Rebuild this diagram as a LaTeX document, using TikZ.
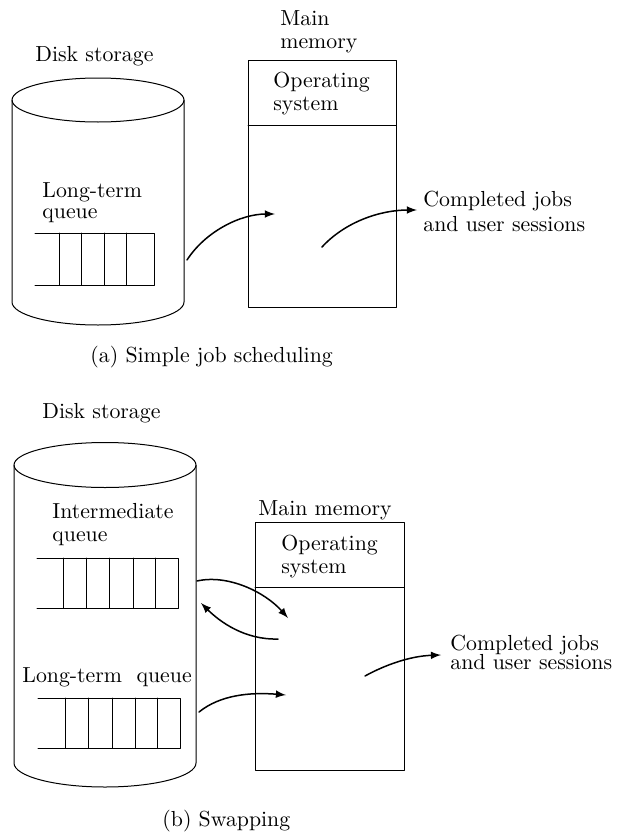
\documentclass[tikz,border=0pt]{standalone}
\begin{document}
\begin{tikzpicture}[x=0.5pt,y=-0.5pt,line cap=round,line join=round,>=latex,
  lbl/.style={inner sep=0pt,anchor=north west,align=left,font=\fontsize{10.9}{11.5}\selectfont},
  outline/.style={line width=0.5pt},
  flow/.style={line width=0.75pt,-latex}]
  \useasboundingbox (0,0) rectangle (622,835);
  % (a) simple job scheduling
  \node[lbl] (diska) at (35,46) {Disk storage};
  \draw[outline] (98,100) ellipse [x radius=86,y radius=22];
  \draw[outline] (12,100) -- (12,302) arc[start angle=180,end angle=0,x radius=86,y radius=23] -- (184,100);
  \node[lbl] (lta) at (42,182) {Long-term\\[-1pt]queue};
  \draw[outline] (35,233) -- (154,233) -- (154,285) -- (35,285)
    (59,233) -- (59,285) (81,233) -- (81,285) (104,233) -- (104,285) (126,233) -- (126,285);
  \node[lbl] (mma) at (280,10) {Main\\memory};
  \draw[outline] (248,60) rectangle (396,307) (248,125) -- (396,125);
  \node[lbl] (osa) at (273,72) {Operating\\system};
  \node[lbl] (donea) at (423,191) {Completed jobs\\[1pt]and user sessions};
  \coordinate (qa-out) at (187,260);
  \coordinate (mema-in) at (275,214);
  \coordinate (mema-out) at (322,247);
  \coordinate (donea-in) at (417,210);
  \draw[flow] (qa-out) .. controls (205,232) and (240,214) .. (mema-in);
  \draw[flow] (mema-out) .. controls (345,222) and (380,210) .. (donea-in);
  \node[lbl] (capa) at (90,346) {(a) Simple job scheduling};
  % (b) swapping
  \node[lbl] (diskb) at (42,403) {Disk storage};
  \draw[outline] (105,465) ellipse [x radius=91,y radius=22.5];
  \draw[outline] (14,465) -- (14,763) arc[start angle=180,end angle=0,x radius=91,y radius=24] -- (196,465);
  \node[lbl] (imq) at (52,503) {Intermediate\\queue};
  \draw[outline] (37,558) -- (178,558) -- (178,608) -- (37,608)
    (63,558) -- (63,608) (86,558) -- (86,608) (109,558) -- (109,608)
    (133,558) -- (133,608) (155,558) -- (155,608);
  \node[lbl] (ltb) at (22,667) {Long-term\ \ queue};
  \draw[outline] (38,698) -- (180,698) -- (180,748) -- (38,748)
    (65,698) -- (65,748) (88,698) -- (88,748) (112,698) -- (112,748)
    (135,698) -- (135,748) (157,698) -- (157,748);
  \node[lbl] (mmb) at (258,500) {Main memory};
  \draw[outline] (255,522) rectangle (404,770) (255,587) -- (404,587);
  \node[lbl] (osb) at (281,535) {Operating\\system};
  \node[lbl] (doneb) at (450,635) {Completed jobs\\[-2pt]and user sessions};
  \coordinate (imq-out) at (197,581);
  \coordinate (memb-in1) at (288,618);
  \coordinate (memb-out1) at (278,639);
  \coordinate (imq-in) at (201,603);
  \coordinate (ltb-out) at (199,712);
  \coordinate (memb-in2) at (286,695);
  \coordinate (memb-out2) at (365,676);
  \coordinate (doneb-in) at (441,655);
  \draw[flow] (imq-out) .. controls (228,574) and (265,592) .. (memb-in1);
  \draw[flow] (memb-out1) .. controls (245,640) and (220,622) .. (imq-in);
  \draw[flow] (ltb-out) .. controls (220,695) and (250,692) .. (memb-in2);
  \draw[flow] (memb-out2) .. controls (385,665) and (410,656) .. (doneb-in);
  \node[lbl] (capb) at (162,810) {(b) Swapping};
\end{tikzpicture}
\end{document}
